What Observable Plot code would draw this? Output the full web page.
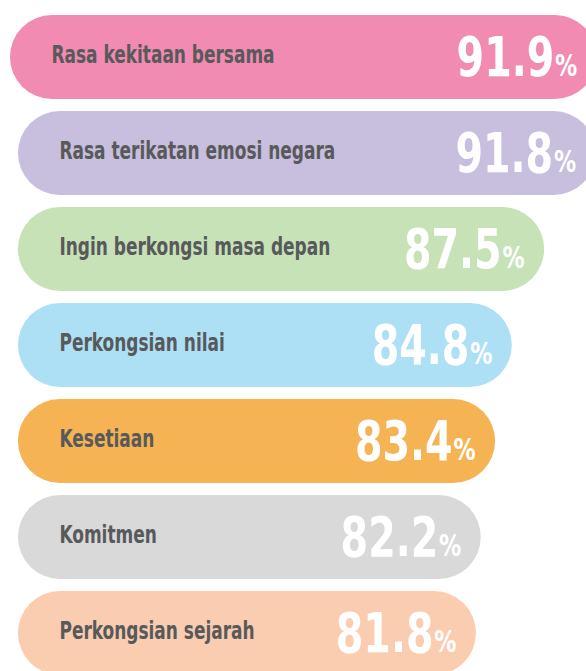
<!DOCTYPE html>
<html>
<head>
<meta charset="utf-8">
<script src="https://cdn.jsdelivr.net/npm/d3@7"></script>
<script src="https://cdn.jsdelivr.net/npm/@observablehq/plot@0.6"></script>
<style>
  html, body { margin: 0; padding: 0; background: #fff; overflow: hidden; }
  #chart svg { display: block; overflow: hidden; }
</style>
</head>
<body>
<div id="chart"></div>
<script>
const labels = [
  "Rasa kekitaan bersama",
  "Rasa terikatan emosi negara",
  "Ingin berkongsi masa depan",
  "Perkongsian nilai",
  "Kesetiaan",
  "Komitmen",
  "Perkongsian sejarah"
];
const values = [91.9, 91.8, 87.5, 84.8, 83.4, 82.2, 81.8];
const colors = ["#F28BB1", "#C8BEDE", "#C8E2B8", "#AEE0F5", "#F5B353", "#D9D9D9", "#FACCB0"];

const data = labels.map((label, i) => ({label, value: values[i], color: colors[i], first: i === 0}));

const BASE = 43.5;
const FONT = "'DejaVu Sans Condensed', 'Liberation Sans Narrow', sans-serif";

const first = data.filter(d => d.first);
const rest = data.filter(d => !d.first);

const chart = Plot.plot({
  width: 586,
  height: 671,
  margin: 0,
  style: {background: "#fff", overflow: "hidden"},
  x: {domain: [42, 91], range: [0, 586], axis: null},
  y: {type: "band", domain: labels, range: [9, 681], paddingInner: 0.125, paddingOuter: 0.0625, axis: null},
  marks: [
    Plot.rect(first, {x1: BASE, x2: "value", y: "label", fill: "color", rx: 42, ry: 42, insetLeft: -8}),
    Plot.rect(rest, {x1: BASE, x2: "value", y: "label", fill: "color", rx: 42, ry: 42}),
    Plot.text(first, {x: BASE, y: "label", text: "label", textAnchor: "start", lineAnchor: "bottom", dx: 33, dy: 5,
      fill: "#58595B", fontFamily: FONT, fontWeight: "bold", fontSize: 25, className: "lbl"}),
    Plot.text(rest, {x: BASE, y: "label", text: "label", textAnchor: "start", lineAnchor: "bottom", dx: 41, dy: 5,
      fill: "#58595B", fontFamily: FONT, fontWeight: "bold", fontSize: 25, className: "lbl"}),
    Plot.text(data, {x: "value", y: "label", text: d => d.value.toFixed(1), textAnchor: "end", lineAnchor: "bottom",
      dx: -43, dy: 18, fill: "#fff", fontFamily: FONT, fontWeight: "bold", fontSize: 55, className: "num"}),
    Plot.text(data, {x: "value", y: "label", text: () => "%", textAnchor: "end", lineAnchor: "bottom",
      dx: -20, dy: 18, fill: "#fff", fontFamily: FONT, fontWeight: "bold", fontSize: 30, className: "pct"})
  ]
});
document.getElementById("chart").appendChild(chart);

// condense glyphs horizontally (about each text's anchor) to mimic the condensed display face
const squeeze = {lbl: 0.755, num: 0.80, pct: 0.82};
for (const [cls, f] of Object.entries(squeeze)) {
  chart.querySelectorAll(`g.${cls} text`).forEach(t => {
    const x = +t.getAttribute("x") || 0;
    const y = +t.getAttribute("y") || 0;
    const prev = t.getAttribute("transform") || "";
    t.setAttribute("transform", `${prev} translate(${x},${y}) scale(${f},1) translate(${-x},${-y})`);
  });
}
</script>
</body>
</html>
